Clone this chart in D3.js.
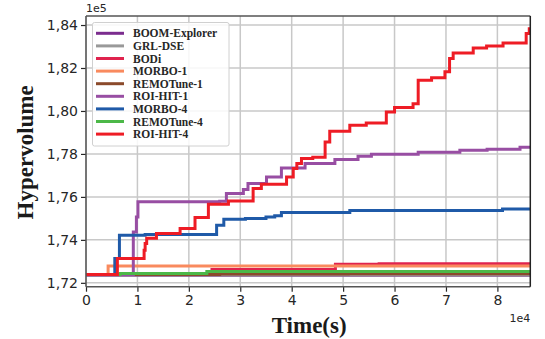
<!DOCTYPE html>
<html>
<head>
<meta charset="utf-8">
<script src="https://cdn.jsdelivr.net/npm/d3@7"></script>
<style>
  body { margin: 0; background: #fff; }
  svg { display: block; }
</style>
</head>
<body>
<svg id="chart" width="545" height="339"></svg>
<script>
// hypervolume values in units of 1e5, time in seconds
var seriesNames = ["BOOM-Explorer", "GRL-DSE", "BODi", "MORBO-1", "REMOTune-1",
                   "ROI-HIT-1", "MORBO-4", "REMOTune-4", "ROI-HIT-4"];
var seriesColors = ["#7b2d8e", "#999999", "#e0234e", "#f98a5e", "#8b4a2b",
                    "#984ea3", "#1f5aa8", "#4cb848", "#ee1c25"];

var boomExplorer = [[0, 1.7235], [86400, 1.7235]];
var grlDse = [[0, 1.7237], [86400, 1.7237]];
var bodi = [[0, 1.7239], [24500, 1.7262], [48500, 1.7286], [57000, 1.7289], [86400, 1.7289]];
var morbo1 = [[0, 1.7239], [4300, 1.7278], [86400, 1.7278]];
var remotune1 = [[0, 1.7239], [26000, 1.7241], [51000, 1.7242], [86400, 1.7242]];
var roiHit1 = [[0, 1.7239], [9200, 1.7437], [9800, 1.7507], [10100, 1.7577], [26000, 1.7580],
               [27300, 1.7616], [30600, 1.7634], [31500, 1.7662], [35100, 1.7693],
               [38000, 1.7735], [42600, 1.7755], [48400, 1.7774], [52900, 1.7789],
               [55500, 1.7799], [64600, 1.7808], [72700, 1.7817], [78000, 1.7822],
               [84400, 1.7831], [86400, 1.7831]];
var morbo4 = [[0, 1.7239], [5600, 1.7313], [6500, 1.7422], [11500, 1.7425], [25400, 1.7468],
              [26800, 1.7496], [31000, 1.7500], [35000, 1.7507], [36700, 1.7512],
              [38000, 1.7527], [51300, 1.7537], [81000, 1.7544], [86400, 1.7544]];
var remotune4 = [[0, 1.7239], [6600, 1.7244], [23500, 1.7253], [86400, 1.7253]];
var roiHit4 = [[0, 1.7239], [6100, 1.7313], [11300, 1.7352], [11500, 1.7383], [11800, 1.7407],
               [13700, 1.7430], [18300, 1.7453], [21200, 1.7504], [23800, 1.7566],
               [27700, 1.7581], [32500, 1.7639], [34100, 1.7659], [39000, 1.7693],
               [40300, 1.7732], [41000, 1.7755], [41900, 1.7779], [44100, 1.7785],
               [46500, 1.7856], [47400, 1.7906], [51300, 1.7934], [54500, 1.7944],
               [58400, 1.7995], [60000, 1.8016], [63600, 1.8034], [64600, 1.8143],
               [67200, 1.8154], [69800, 1.8182], [70700, 1.8244], [71400, 1.8270],
               [75300, 1.8293], [77900, 1.8302], [81100, 1.8316], [85600, 1.8360],
               [86200, 1.8383], [86400, 1.8383]];

var seriesData = [boomExplorer, grlDse, bodi, morbo1, remotune1, roiHit1, morbo4, remotune4, roiHit4];

var xTicks = [0, 10000, 20000, 30000, 40000, 50000, 60000, 70000, 80000];
var yTicks = [1.72, 1.74, 1.76, 1.78, 1.80, 1.82, 1.84];

var svg = d3.select("#chart");
var margin = {top: 16, right: 14.7, bottom: 52.3, left: 86},
    width = 545 - margin.left - margin.right,
    height = 339 - margin.top - margin.bottom;

var x = d3.scaleLinear().domain([0, 86400]).range([0, width]);
var y = d3.scaleLinear().domain([1.7182, 1.8442]).range([height, 0]);

var g = svg.append("g")
    .attr("transform", "translate(" + margin.left + "," + margin.top + ")");

// grid
g.append("g").selectAll("line")
    .data(xTicks).enter().append("line")
    .attr("x1", function(d) { return x(d); })
    .attr("x2", function(d) { return x(d); })
    .attr("y1", 0).attr("y2", height)
    .attr("stroke", "#c8c8c8").attr("stroke-width", 1.5);
g.append("g").selectAll("line")
    .data(yTicks).enter().append("line")
    .attr("y1", function(d) { return y(d); })
    .attr("y2", function(d) { return y(d); })
    .attr("x1", 0).attr("x2", width)
    .attr("stroke", "#c8c8c8").attr("stroke-width", 1.5);

svg.append("defs").append("clipPath").attr("id", "plotclip")
    .append("rect").attr("x", 0).attr("y", 0).attr("width", width).attr("height", height);

var line = d3.line()
    .x(function(d) { return x(d[0]); })
    .y(function(d) { return y(d[1]); })
    .curve(d3.curveStepAfter);

g.append("g").attr("clip-path", "url(#plotclip)")
    .selectAll("path")
    .data(seriesData).enter().append("path")
    .attr("d", line)
    .attr("fill", "none")
    .attr("stroke", function(d, i) { return seriesColors[i]; })
    .attr("stroke-width", 3)
    .attr("stroke-linejoin", "miter");

// axes
var xAxis = g.append("g")
    .attr("transform", "translate(0," + height + ")")
    .call(d3.axisBottom(x).tickValues(xTicks).tickSize(5).tickPadding(3)
        .tickFormat(function(d) { return d / 10000; }));
var yAxis = g.append("g")
    .call(d3.axisLeft(y).tickValues(yTicks).tickSize(5).tickPadding(3)
        .tickFormat(function(d) { return d3.format(".2f")(d).replace(".", ","); }));

[xAxis, yAxis].forEach(function(a) {
    a.select(".domain").remove();
    a.selectAll("line").attr("stroke", "#262626").attr("stroke-width", 1.2);
    a.selectAll("text").attr("fill", "#262626")
        .style("font-family", "DejaVu Sans, sans-serif").style("font-size", "14px");
});

// spines
g.append("line").attr("x1", 0).attr("x2", width).attr("y1", 0).attr("y2", 0)
    .attr("stroke", "#555").attr("stroke-width", 1.5);
g.append("line").attr("x1", 0).attr("x2", width).attr("y1", height).attr("y2", height)
    .attr("stroke", "#555").attr("stroke-width", 1.5);
g.append("line").attr("x1", 0).attr("x2", 0).attr("y1", 0).attr("y2", height)
    .attr("stroke", "#555").attr("stroke-width", 1.5);
g.append("line").attr("x1", width).attr("x2", width).attr("y1", 0).attr("y2", height)
    .attr("stroke", "#222").attr("stroke-width", 1.5);

// offset texts
svg.append("text").attr("x", margin.left).attr("y", 12)
    .style("font-family", "DejaVu Sans, sans-serif").style("font-size", "11px")
    .attr("fill", "#262626").text("1e5");
svg.append("text").attr("x", margin.left + width).attr("y", 322)
    .attr("text-anchor", "end")
    .style("font-family", "DejaVu Sans, sans-serif").style("font-size", "11px")
    .attr("fill", "#262626").text("1e4");

// axis titles
svg.append("text")
    .attr("transform", "translate(33," + (margin.top + height / 2 + 1) + ") rotate(-90)")
    .attr("text-anchor", "middle")
    .style("font-family", "Liberation Serif, serif").style("font-weight", "bold")
    .style("font-size", "23px").attr("fill", "#1a1a1a")
    .text("Hypervolume");
svg.append("text")
    .attr("x", margin.left + width / 2 + 1).attr("y", 333)
    .attr("text-anchor", "middle")
    .style("font-family", "Liberation Serif, serif").style("font-weight", "bold")
    .style("font-size", "23px").attr("fill", "#1a1a1a")
    .text("Time(s)");

// legend
var legend = svg.append("g").attr("transform", "translate(92.5,22.5)");
legend.append("rect")
    .attr("width", 136.5).attr("height", 123.5)
    .attr("rx", 2).attr("fill", "#fff").attr("fill-opacity", 0.85)
    .attr("stroke", "#d0d0d0").attr("stroke-width", 1);
var item = legend.selectAll(".item")
    .data(seriesNames).enter().append("g")
    .attr("transform", function(d, i) { return "translate(0," + (10.8 + i * 12.6) + ")"; });
item.append("line")
    .attr("x1", 3.5).attr("x2", 31.5).attr("y1", 0).attr("y2", 0)
    .attr("stroke", function(d, i) { return seriesColors[i]; })
    .attr("stroke-width", 3);
item.append("text")
    .attr("x", 40.5).attr("y", 4)
    .style("font-family", "Liberation Serif, serif").style("font-weight", "bold")
    .style("font-size", "11.5px").attr("fill", "#262626")
    .text(function(d) { return d; });
</script>
</body>
</html>
